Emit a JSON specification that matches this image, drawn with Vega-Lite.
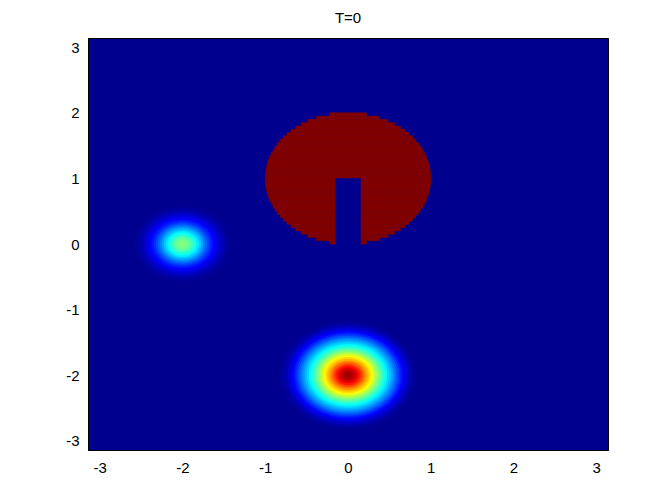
{
  "$schema": "https://vega.github.io/schema/vega-lite/v6.json",
  "width": 520,
  "height": 412,
  "autosize": {"type": "none"},
  "padding": {"left": 88, "top": 38, "right": 64, "bottom": 54},
  "background": "white",
  "view": {"fill": "#00008F", "stroke": "black", "strokeWidth": 1},
  "title": {"text": "T=0", "font": "Liberation Sans", "fontSize": 15, "fontWeight": "normal", "color": "black", "offset": 12},
  "datasets": {
    "disk": [
      {"x": -0.2222, "x2": 0.2222, "y": 0.00, "y2": 0.05, "v": 1},
      {"x": -0.3800, "x2": 0.3800, "y": 0.05, "y2": 0.10, "v": 1},
      {"x": -0.4841, "x2": 0.4841, "y": 0.10, "y2": 0.15, "v": 1},
      {"x": -0.5651, "x2": 0.5651, "y": 0.15, "y2": 0.20, "v": 1},
      {"x": -0.6320, "x2": 0.6320, "y": 0.20, "y2": 0.25, "v": 1},
      {"x": -0.6888, "x2": 0.6888, "y": 0.25, "y2": 0.30, "v": 1},
      {"x": -0.7378, "x2": 0.7378, "y": 0.30, "y2": 0.35, "v": 1},
      {"x": -0.7806, "x2": 0.7806, "y": 0.35, "y2": 0.40, "v": 1},
      {"x": -0.8182, "x2": 0.8182, "y": 0.40, "y2": 0.45, "v": 1},
      {"x": -0.8511, "x2": 0.8511, "y": 0.45, "y2": 0.50, "v": 1},
      {"x": -0.8800, "x2": 0.8800, "y": 0.50, "y2": 0.55, "v": 1},
      {"x": -0.9052, "x2": 0.9052, "y": 0.55, "y2": 0.60, "v": 1},
      {"x": -0.9270, "x2": 0.9270, "y": 0.60, "y2": 0.65, "v": 1},
      {"x": -0.9457, "x2": 0.9457, "y": 0.65, "y2": 0.70, "v": 1},
      {"x": -0.9614, "x2": 0.9614, "y": 0.70, "y2": 0.75, "v": 1},
      {"x": -0.9744, "x2": 0.9744, "y": 0.75, "y2": 0.80, "v": 1},
      {"x": -0.9846, "x2": 0.9846, "y": 0.80, "y2": 0.85, "v": 1},
      {"x": -0.9922, "x2": 0.9922, "y": 0.85, "y2": 0.90, "v": 1},
      {"x": -0.9972, "x2": 0.9972, "y": 0.90, "y2": 0.95, "v": 1},
      {"x": -0.9997, "x2": 0.9997, "y": 0.95, "y2": 1.00, "v": 1},
      {"x": -0.9997, "x2": 0.9997, "y": 1.00, "y2": 1.05, "v": 1},
      {"x": -0.9972, "x2": 0.9972, "y": 1.05, "y2": 1.10, "v": 1},
      {"x": -0.9922, "x2": 0.9922, "y": 1.10, "y2": 1.15, "v": 1},
      {"x": -0.9846, "x2": 0.9846, "y": 1.15, "y2": 1.20, "v": 1},
      {"x": -0.9744, "x2": 0.9744, "y": 1.20, "y2": 1.25, "v": 1},
      {"x": -0.9614, "x2": 0.9614, "y": 1.25, "y2": 1.30, "v": 1},
      {"x": -0.9457, "x2": 0.9457, "y": 1.30, "y2": 1.35, "v": 1},
      {"x": -0.9270, "x2": 0.9270, "y": 1.35, "y2": 1.40, "v": 1},
      {"x": -0.9052, "x2": 0.9052, "y": 1.40, "y2": 1.45, "v": 1},
      {"x": -0.8800, "x2": 0.8800, "y": 1.45, "y2": 1.50, "v": 1},
      {"x": -0.8511, "x2": 0.8511, "y": 1.50, "y2": 1.55, "v": 1},
      {"x": -0.8182, "x2": 0.8182, "y": 1.55, "y2": 1.60, "v": 1},
      {"x": -0.7806, "x2": 0.7806, "y": 1.60, "y2": 1.65, "v": 1},
      {"x": -0.7378, "x2": 0.7378, "y": 1.65, "y2": 1.70, "v": 1},
      {"x": -0.6888, "x2": 0.6888, "y": 1.70, "y2": 1.75, "v": 1},
      {"x": -0.6320, "x2": 0.6320, "y": 1.75, "y2": 1.80, "v": 1},
      {"x": -0.5651, "x2": 0.5651, "y": 1.80, "y2": 1.85, "v": 1},
      {"x": -0.4841, "x2": 0.4841, "y": 1.85, "y2": 1.90, "v": 1},
      {"x": -0.3800, "x2": 0.3800, "y": 1.90, "y2": 1.95, "v": 1},
      {"x": -0.2222, "x2": 0.2222, "y": 1.95, "y2": 2.00, "v": 1},
      {"x": -0.15, "x2": 0.15, "y": -0.02, "y2": 1.0, "v": 0}
    ],
    "bumps": [
      {"cx": 0, "cy": -2, "r": 0.825, "v": 0.005},
      {"cx": 0, "cy": -2, "r": 0.800, "v": 0.014},
      {"cx": 0, "cy": -2, "r": 0.775, "v": 0.028},
      {"cx": 0, "cy": -2, "r": 0.750, "v": 0.045},
      {"cx": 0, "cy": -2, "r": 0.725, "v": 0.065},
      {"cx": 0, "cy": -2, "r": 0.700, "v": 0.088},
      {"cx": 0, "cy": -2, "r": 0.675, "v": 0.112},
      {"cx": 0, "cy": -2, "r": 0.650, "v": 0.140},
      {"cx": 0, "cy": -2, "r": 0.625, "v": 0.170},
      {"cx": 0, "cy": -2, "r": 0.600, "v": 0.202},
      {"cx": 0, "cy": -2, "r": 0.575, "v": 0.234},
      {"cx": 0, "cy": -2, "r": 0.550, "v": 0.265},
      {"cx": 0, "cy": -2, "r": 0.525, "v": 0.295},
      {"cx": 0, "cy": -2, "r": 0.500, "v": 0.326},
      {"cx": 0, "cy": -2, "r": 0.475, "v": 0.358},
      {"cx": 0, "cy": -2, "r": 0.450, "v": 0.392},
      {"cx": 0, "cy": -2, "r": 0.425, "v": 0.426},
      {"cx": 0, "cy": -2, "r": 0.400, "v": 0.460},
      {"cx": 0, "cy": -2, "r": 0.375, "v": 0.496},
      {"cx": 0, "cy": -2, "r": 0.350, "v": 0.535},
      {"cx": 0, "cy": -2, "r": 0.325, "v": 0.575},
      {"cx": 0, "cy": -2, "r": 0.300, "v": 0.614},
      {"cx": 0, "cy": -2, "r": 0.275, "v": 0.652},
      {"cx": 0, "cy": -2, "r": 0.250, "v": 0.690},
      {"cx": 0, "cy": -2, "r": 0.225, "v": 0.730},
      {"cx": 0, "cy": -2, "r": 0.200, "v": 0.770},
      {"cx": 0, "cy": -2, "r": 0.175, "v": 0.810},
      {"cx": 0, "cy": -2, "r": 0.150, "v": 0.850},
      {"cx": 0, "cy": -2, "r": 0.125, "v": 0.888},
      {"cx": 0, "cy": -2, "r": 0.100, "v": 0.920},
      {"cx": 0, "cy": -2, "r": 0.075, "v": 0.945},
      {"cx": 0, "cy": -2, "r": 0.050, "v": 0.960},
      {"cx": 0, "cy": -2, "r": 0.025, "v": 0.968},
      {"cx": -2, "cy": 0, "r": 0.600, "v": 0.002},
      {"cx": -2, "cy": 0, "r": 0.575, "v": 0.006},
      {"cx": -2, "cy": 0, "r": 0.550, "v": 0.014},
      {"cx": -2, "cy": 0, "r": 0.525, "v": 0.025},
      {"cx": -2, "cy": 0, "r": 0.500, "v": 0.038},
      {"cx": -2, "cy": 0, "r": 0.475, "v": 0.053},
      {"cx": -2, "cy": 0, "r": 0.450, "v": 0.070},
      {"cx": -2, "cy": 0, "r": 0.425, "v": 0.088},
      {"cx": -2, "cy": 0, "r": 0.400, "v": 0.107},
      {"cx": -2, "cy": 0, "r": 0.375, "v": 0.128},
      {"cx": -2, "cy": 0, "r": 0.350, "v": 0.152},
      {"cx": -2, "cy": 0, "r": 0.325, "v": 0.180},
      {"cx": -2, "cy": 0, "r": 0.300, "v": 0.210},
      {"cx": -2, "cy": 0, "r": 0.275, "v": 0.240},
      {"cx": -2, "cy": 0, "r": 0.250, "v": 0.275},
      {"cx": -2, "cy": 0, "r": 0.225, "v": 0.310},
      {"cx": -2, "cy": 0, "r": 0.200, "v": 0.345},
      {"cx": -2, "cy": 0, "r": 0.175, "v": 0.375},
      {"cx": -2, "cy": 0, "r": 0.150, "v": 0.405},
      {"cx": -2, "cy": 0, "r": 0.125, "v": 0.435},
      {"cx": -2, "cy": 0, "r": 0.100, "v": 0.460},
      {"cx": -2, "cy": 0, "r": 0.075, "v": 0.478},
      {"cx": -2, "cy": 0, "r": 0.050, "v": 0.490},
      {"cx": -2, "cy": 0, "r": 0.025, "v": 0.498}
    ]
  },
  "config": {
    "axis": {
      "labelFont": "Liberation Sans",
      "labelFontSize": 15,
      "labelColor": "black",
      "domainColor": "black",
      "ticks": false,
      "grid": false,
      "title": null
    }
  },
  "layer": [
    {
      "data": {"name": "disk"},
      "mark": {"type": "rect", "strokeWidth": 0.6},
      "encoding": {
        "x": {"field": "x", "type": "quantitative", "scale": {"domain": [-3.14159, 3.14159], "nice": false, "zero": false},
              "axis": {"values": [-3, -2, -1, 0, 1, 2, 3], "labelExpr": "toString(datum.value)", "labelPadding": 10}},
        "x2": {"field": "x2"},
        "y": {"field": "y", "type": "quantitative", "scale": {"domain": [-3.14159, 3.14159], "nice": false, "zero": false},
              "axis": {"values": [-3, -2, -1, 0, 1, 2, 3], "labelExpr": "toString(datum.value)", "labelPadding": 9}},
        "y2": {"field": "y2"},
        "color": {"field": "v", "type": "quantitative", "legend": null,
                  "scale": {"domain": [0, 0.111, 0.365, 0.619, 0.873, 1], "range": ["#00008F", "#0000FF", "#00FFFF", "#FFFF00", "#FF0000", "#800000"], "interpolate": "rgb"}},
        "stroke": {"field": "v", "type": "quantitative", "legend": null,
                  "scale": {"domain": [0, 0.111, 0.365, 0.619, 0.873, 1], "range": ["#00008F", "#0000FF", "#00FFFF", "#FFFF00", "#FF0000", "#800000"], "interpolate": "rgb"}}
      }
    },
    {
      "data": {"name": "bumps"},
      "mark": {"type": "point", "filled": true, "opacity": 1, "strokeWidth": 0,
               "shape": "M -1 0 A 1 0.7923 0 1 0 1 0 A 1 0.7923 0 1 0 -1 0 Z"},
      "encoding": {
        "x": {"field": "cx", "type": "quantitative"},
        "y": {"field": "cy", "type": "quantitative"},
        "size": {"field": "r", "type": "quantitative", "legend": null,
                 "scale": {"type": "pow", "exponent": 2, "domain": [0, 1], "range": [0, 27397], "zero": true}},
        "color": {"field": "v", "type": "quantitative", "legend": null},
        "order": {"field": "r", "type": "quantitative", "sort": "descending"}
      }
    }
  ]
}
